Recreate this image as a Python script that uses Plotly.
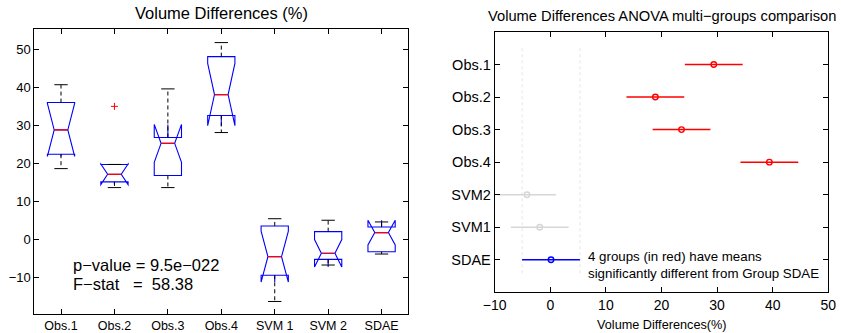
import plotly.graph_objects as go

# ---------------- data: left panel (notched box plots) ----------------
groups = ["Obs.1", "Obs.2", "Obs.3", "Obs.4", "SVM 1", "SVM 2", "SDAE"]
q1 = [22.4, 15.1, 16.8, 32.6, -9.5, -5.3, -3.3]
median = [28.8, 17.1, 25.25, 38.1, -4.6, -3.7, 1.75]
q3 = [36.0, 19.7, 26.8, 48.1, 3.5, 2.0, 3.2]
lower_whisker = [18.6, 13.6, 13.6, 28.1, -16.4, -6.8, -3.9]
upper_whisker = [40.7, 19.7, 39.6, 51.8, 5.4, 5.0, 4.55]
notch_span = [7.0, 2.7, 5.0, 8.2, 6.7, 3.6, 3.25]
outlier_group = [2]
outlier_value = [35.0]
p_value_text = "p\u2212value = 9.5e\u2212022"
f_stat_text = "F\u2212stat\u00a0\u00a0\u00a0=\u00a0\u00a058.38"

# ---------------- data: right panel (multiple comparison) ----------------
cmp_groups = ["Obs.1", "Obs.2", "Obs.3", "Obs.4", "SVM2", "SVM1", "SDAE"]
cmp_mean = [29.4, 18.9, 23.6, 39.4, -4.2, -1.9, 0.13]
cmp_halfwidth = [5.2, 5.2, 5.2, 5.2, 5.2, 5.2, 5.2]
control_group = "SDAE"

FONT = "Liberation Sans, Arial, Helvetica, sans-serif"
BLUE = "#0000ff"
RED = "#ff0000"
GRAY = "#d6d6d6"

pos = list(range(1, len(groups) + 1))
fig = go.Figure()

# whiskers (black dashed) and caps
wx, wy, cx, cy = [], [], [], []
cap = 0.125
for p, a, b, lo, hi in zip(pos, q1, q3, lower_whisker, upper_whisker):
    wx += [p, p, None, p, p, None]
    wy += [b, hi, None, a, lo, None]
    cx += [p - cap, p + cap, None, p - cap, p + cap, None]
    cy += [hi, hi, None, lo, lo, None]
fig.add_trace(go.Scatter(x=wx, y=wy, mode="lines", line=dict(color="black", width=1, dash="4px,3px"),
                         hoverinfo="skip", showlegend=False, xaxis="x", yaxis="y"))
fig.add_trace(go.Scatter(x=cx, y=cy, mode="lines", line=dict(color="black", width=1),
                         hoverinfo="skip", showlegend=False, xaxis="x", yaxis="y"))

# notched boxes
fig.add_trace(go.Box(x=pos, q1=q1, median=median, q3=q3, lowerfence=q1, upperfence=q3,
                     notched=True, notchspan=notch_span, notchwidth=0.25, width=0.51,
                     whiskerwidth=0, line=dict(color=BLUE, width=1.1),
                     fillcolor="rgba(0,0,0,0)", boxpoints=False, showlegend=False,
                     xaxis="x", yaxis="y"))

# red medians
mx, my = [], []
mw = 0.125
for p, m in zip(pos, median):
    mx += [p - mw, p + mw, None]
    my += [m, m, None]
fig.add_trace(go.Scatter(x=mx, y=my, mode="lines", line=dict(color=RED, width=1.2),
                         hoverinfo="skip", showlegend=False, xaxis="x", yaxis="y"))

# outlier
fig.add_trace(go.Scatter(x=outlier_group, y=outlier_value, mode="markers",
                         marker=dict(symbol="cross-thin", size=5, line=dict(color=RED, width=1)),
                         showlegend=False, xaxis="x", yaxis="y"))

# ---------------- right panel ----------------
ci = cmp_groups.index(control_group)
c_mean, c_hw = cmp_mean[ci], cmp_halfwidth[ci]
sig = [abs(m - c_mean) > h + c_hw for m, h in zip(cmp_mean, cmp_halfwidth)]

def add_group(idx, color):
    if not idx:
        return
    fig.add_trace(go.Scatter(
        x=[cmp_mean[i] for i in idx], y=[cmp_groups[i] for i in idx], mode="markers",
        marker=dict(symbol="circle-open", size=5.5, color=color, line=dict(width=1.4, color=color)),
        error_x=dict(type="data", array=[cmp_halfwidth[i] for i in idx], symmetric=True,
                     color=color, thickness=1.5, width=0),
        showlegend=False, xaxis="x2", yaxis="y2"))

add_group([i for i in range(len(cmp_groups)) if sig[i] and i != ci], RED)
add_group([i for i in range(len(cmp_groups)) if not sig[i] and i != ci], GRAY)
add_group([ci], BLUE)

for xv in (c_mean - c_hw, c_mean + c_hw):
    fig.add_shape(type="line", xref="x2", yref="y2", x0=xv, x1=xv, y0=-0.5, y1=len(cmp_groups) - 0.5,
                  line=dict(color="#e6e6e6", width=1, dash="dot"), layer="below")

axis_common = dict(showline=True, linecolor="black", linewidth=1, mirror="ticks", ticks="inside",
                   ticklen=5, tickcolor="black", showgrid=False, zeroline=False, automargin=False)

fig.update_layout(
    width=841, height=333, margin=dict(l=0, r=0, t=0, b=0, autoexpand=False),
    paper_bgcolor="white", plot_bgcolor="white",
    font=dict(family=FONT, color="black"),
    xaxis=dict(domain=[34.3 / 841, 408.3 / 841], range=[0.5, 7.5], tickvals=pos, ticktext=groups,
               tickfont=dict(size=12.5), anchor="y", **axis_common),
    yaxis=dict(domain=[(333 - 314) / 333, (333 - 29.3) / 333], range=[-19.7, 55.3],
               tickvals=[-10, 0, 10, 20, 30, 40, 50], tickfont=dict(size=13), anchor="x", **axis_common),
    xaxis2=dict(domain=[494.7 / 841, 828.3 / 841], range=[-10, 50], tickvals=[-10, 0, 10, 20, 30, 40, 50],
                tickfont=dict(size=14), anchor="y2", **axis_common),
    yaxis2=dict(domain=[(333 - 292.3) / 333, (333 - 32) / 333], type="category",
                categoryorder="array", categoryarray=cmp_groups, range=[7, -1],
                tickfont=dict(size=14.5), anchor="x2", **axis_common),
    annotations=[
        dict(text="Volume Differences (%)", xref="paper", yref="paper", x=221.3 / 841, y=(333 - 13) / 333,
             xanchor="center", yanchor="middle", showarrow=False, font=dict(size=16.5)),
        dict(text="Volume Differences ANOVA multi\u2212groups comparison", xref="paper", yref="paper",
             x=661.5 / 841, y=(333 - 15.5) / 333, xanchor="center", yanchor="middle",
             showarrow=False, font=dict(size=14.7)),
        dict(text="Volume Differences(%)", xref="paper", yref="paper", x=661.5 / 841, y=(333 - 324.5) / 333,
             xanchor="center", yanchor="middle", showarrow=False, font=dict(size=12.7)),
        dict(text=p_value_text, xref="x", yref="y", x=1.18, y=-6.8, xanchor="left", yanchor="middle",
             showarrow=False, font=dict(size=16.5)),
        dict(text=f_stat_text, xref="x", yref="y", x=1.18, y=-11.7, xanchor="left", yanchor="middle",
             showarrow=False, font=dict(size=16.5)),
        dict(text="4 groups (in red) have means<br>significantly different from Group SDAE",
             xref="x2", yref="y2", x=6.5, y=6.15, xanchor="left", yanchor="middle", align="left",
             showarrow=False, font=dict(size=13.3)),
    ],
)

fig.write_html("out.html", config={"displayModeBar": False},
               post_script="document.body.style.margin='0';document.body.style.padding='0';")
